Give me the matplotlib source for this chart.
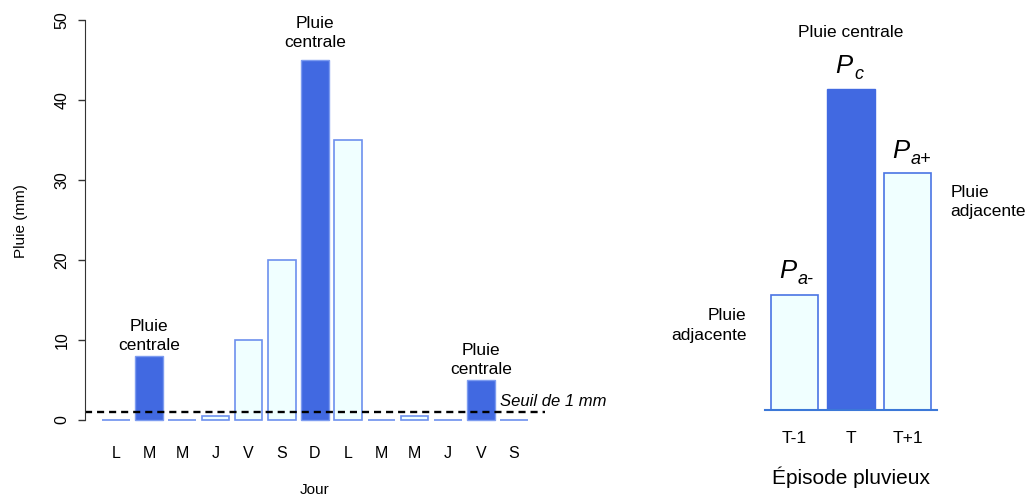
import numpy as np
import matplotlib
matplotlib.use("Agg")
import matplotlib.pyplot as plt

plt.rcParams['font.family'] = ['Liberation Sans', 'DejaVu Sans']

# left panel: daily rain over two weeks
days = ['L', 'M', 'M', 'J', 'V', 'S', 'D', 'L', 'M', 'M', 'J', 'V', 'S']
rain = [0, 8, 0, 0.5, 10, 20, 45, 35, 0, 0.5, 0, 5, 0]
central = [False, True, False, False, False, False, True, False, False, False, False, True, False]

# right panel: a rain episode
episode = ['T-1', 'T', 'T+1']
episode_rain = [15, 42, 31]
episode_central = [False, True, False]

FILL = '#4169E1'
OPEN_FILL = '#F0FFFF'
OPEN_EDGE = '#6D90EE'

W, H = 1026, 498
fig = plt.figure(figsize=(W / 100, H / 100), dpi=100)

#==================================LEFT PANEL==================================
ax = fig.add_axes([85 / W, 62 / H, 460 / W, 432 / H])
x = 0.7 + 1.2 * np.arange(len(days))
for xi, r, c in zip(x, rain, central):
    if c:
        ax.bar(xi, r, 1.0, color=FILL, edgecolor='#7D9CF0', linewidth=1.0, clip_on=False)
    else:
        ax.bar(xi, r, 1.0, color=OPEN_FILL, edgecolor=OPEN_EDGE, linewidth=1.2, clip_on=False)
ax.set_xlim(-0.416, 16.216)
ax.set_ylim(-2, 52)
ax.axhline(1, color='black', linestyle=(0, (3.0, 2.1)), linewidth=1.7)
ax.text(14.6, 2.3, 'Seuil de 1 mm', fontsize=12, style='italic', va='center', ha='left', clip_on=False)

for xi, r, c in zip(x, rain, central):
    if c:
        off = 7 if r > 40 else 2
        ax.annotate('Pluie\ncentrale', (xi, r), xytext=(0, off), textcoords='offset points',
                    ha='center', va='bottom', fontsize=12.5, linespacing=1.35, annotation_clip=False)

for s in ['top', 'right', 'bottom']:
    ax.spines[s].set_visible(False)
ax.spines['left'].set_bounds(0, 50)
ax.spines['left'].set_color('#333333')
ax.set_yticks(np.arange(0, 51, 10))
ax.tick_params(axis='y', length=5, width=1, color='#333333', labelsize=11.5, pad=6)
for lab in ax.get_yticklabels():
    lab.set_rotation(90)
    lab.set_va('center')
ax.set_xticks(x)
ax.set_xticklabels(days)
ax.tick_params(axis='x', length=0, labelsize=11.5, pad=7)
fig.text(21 / W, 1 - 221 / H, 'Pluie (mm)', rotation=90, ha='center', va='center', fontsize=11)
fig.text(315 / W, 1 - 490 / H, 'Jour', ha='center', va='center', fontsize=11)

#==================================RIGHT PANEL==================================
ax2 = fig.add_axes([765 / W, 88 / H, 172 / W, 410 / H])
x2 = 1.2 * np.arange(len(episode))
for xi, r, c in zip(x2, episode_rain, episode_central):
    if c:
        ax2.bar(xi, r, 1.0, color=FILL, edgecolor=FILL, linewidth=1.0)
    else:
        ax2.bar(xi, r, 1.0, color=OPEN_FILL, edgecolor='#4A74E4', linewidth=1.2)
ax2.set_xlim(-0.628, 3.028)
ax2.set_ylim(0, 53.6)
for s in ['top', 'right', 'left']:
    ax2.spines[s].set_visible(False)
ax2.spines['bottom'].set_color('#3C78D8')
ax2.spines['bottom'].set_linewidth(1.5)
ax2.set_yticks([])
ax2.set_xticks(x2)
ax2.set_xticklabels(episode)
ax2.tick_params(axis='x', length=0, labelsize=12.5, pad=15)

ax2.text(x2[1], 49.3, 'Pluie centrale', ha='center', va='center', fontsize=12.5)
# P labels with plain hyphen subscripts
sym = [('c', x2[1], 45.0), ('a-', x2[0], 18.2), ('a+', x2[2], 33.9)]
for sub, xs, ys in sym:
    ax2.annotate('P', (xs, ys), xytext=(-5, 0), textcoords='offset points', ha='center', va='center',
                 fontsize=18.5, style='italic', annotation_clip=False)
    ax2.annotate(sub, (xs, ys), xytext=(2.5, -6.5), textcoords='offset points', ha='left', va='center',
                 fontsize=13, style='italic', annotation_clip=False)
ax2.text(-1.02, 11.0, 'Pluie\nadjacente', ha='right', va='center', fontsize=12.5, linespacing=1.4, clip_on=False)
ax2.text(3.31, 27.2, 'Pluie\nadjacente', ha='left', va='center', fontsize=12.5, linespacing=1.4, clip_on=False)
fig.text(851 / W, 1 - 477 / H, 'Épisode pluvieux', ha='center', va='center', fontsize=15)

fig.savefig('out.png', dpi=100)
